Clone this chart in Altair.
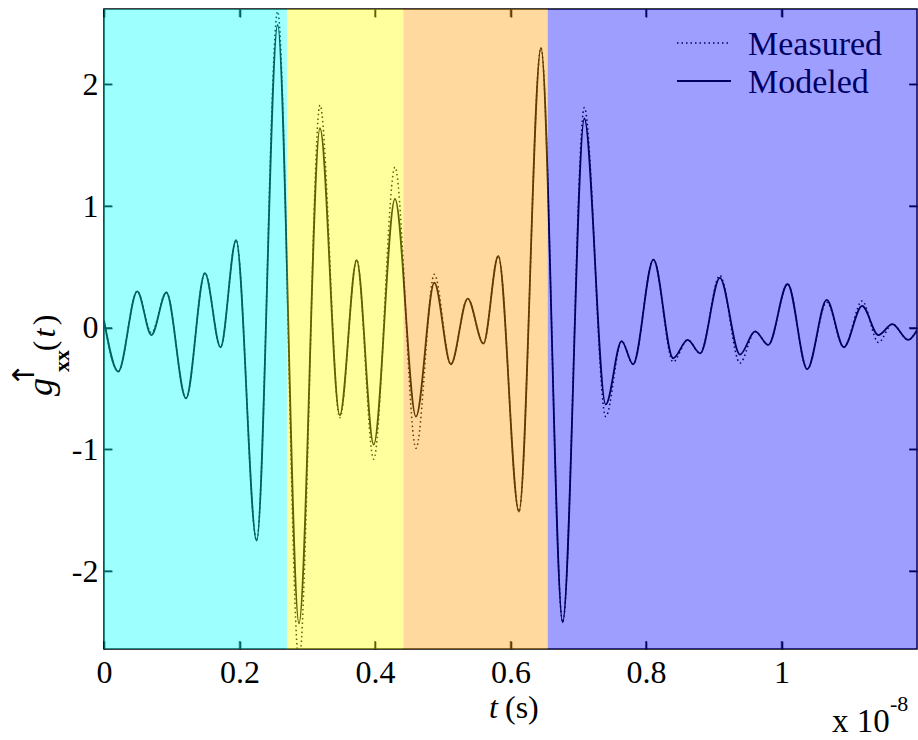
import altair as alt
import pandas as pd

# ---- data (t in units of 1e-8 s) ----
t_vals = [0.000, 0.021, 0.049, 0.070, 0.092, 0.121, 0.149, 0.172, 0.195, 0.2253,
          0.2563, 0.2878, 0.3188, 0.348, 0.373, 0.398, 0.4295, 0.4605, 0.4876, 0.512,
          0.5368, 0.560, 0.582, 0.6125, 0.645, 0.677, 0.709, 0.7405, 0.764, 0.781,
          0.811, 0.840, 0.8615, 0.880, 0.909, 0.9387, 0.961, 0.9806, 1.009, 1.038,
          1.0667, 1.092, 1.119, 1.143, 1.1636, 1.187, 1.200]
modeled = [0.06, -0.36, 0.30, -0.06, 0.29, -0.58, 0.45, -0.16, 0.72, -1.75,
           2.49, -2.43, 1.64, -0.72, 0.555, -0.96, 1.06, -0.73, 0.37, -0.30,
           0.24, -0.13, 0.59, -1.51, 2.30, -2.42, 1.72, -0.63, -0.11, -0.30,
           0.56, -0.25, -0.10, -0.21, 0.41, -0.22, -0.03, -0.14, 0.36, -0.34,
           0.23, -0.16, 0.18, -0.06, 0.03, -0.10, -0.02]
measured = [0.06, -0.36, 0.30, -0.04, 0.29, -0.58, 0.45, -0.16, 0.72, -1.75,
            2.60, -2.75, 1.83, -0.74, 0.56, -1.08, 1.32, -0.99, 0.44, -0.30,
            0.24, -0.13, 0.59, -1.51, 2.30, -2.42, 1.81, -0.73, -0.11, -0.30,
            0.56, -0.28, -0.10, -0.21, 0.43, -0.29, -0.03, -0.14, 0.36, -0.34,
            0.21, -0.16, 0.22, -0.12, 0.03, -0.10, -0.02]

band_start = [0.0, 0.27, 0.442, 0.655]
band_end = [0.27, 0.442, 0.655, 1.2]
band_color = ["#00FFFF", "#FFFF00", "#FF9A00", "#0000FF"]

x_ticks = [0, 0.2, 0.4, 0.6, 0.8, 1]
y_ticks = [-2, -1, 0, 1, 2]
series_names = ["Measured", "Modeled"]

# ---- layout ----
W, H = 813, 640
XDOM = [0, 1.2]
YDOM = [-2.64, 2.62]
FONT = "Liberation Serif"
FS = 32
TL = 8  # inward tick length

df = pd.DataFrame({"t": t_vals, "modeled": modeled, "measured": measured})
bands = pd.DataFrame({"start": band_start, "end": band_end, "color": band_color})
xt_df = pd.DataFrame({"v": x_ticks})
yt_df = pd.DataFrame({"v": y_ticks})

xs = alt.Scale(domain=XDOM, nice=False, zero=False)
ys = alt.Scale(domain=YDOM, nice=False, zero=False)

common = dict(grid=False, domain=False, tickSize=TL, offset=-TL, tickColor="black",
              tickWidth=1.6, labelFont=FONT, labelFontSize=FS, labelColor="black",
              labelFlush=False, title=None, labelExpr="'' + datum.value")

x_bottom = alt.Axis(orient="bottom", values=x_ticks, labelPadding=8, **common)
y_left = alt.Axis(orient="left", values=y_ticks, labelPadding=6, **common)
x_top = alt.Axis(orient="top", values=x_ticks, labels=False, **common)
y_right = alt.Axis(orient="right", values=y_ticks, labels=False, **common)

modeled_line = alt.Chart(df).mark_line(
    interpolate="monotone", color="black", strokeWidth=1.8, clip=True
).encode(
    x=alt.X("t:Q", scale=xs, axis=x_bottom),
    y=alt.Y("modeled:Q", scale=ys, axis=y_left),
)

measured_line = alt.Chart(df).mark_line(
    interpolate="monotone", color="black", strokeWidth=1.5, strokeDash=[1.5, 3], clip=True
).encode(
    x=alt.X("t:Q", scale=xs, axis=x_top),
    y=alt.Y("measured:Q", scale=ys, axis=y_right),
)

# inward tick marks on all four sides (from the tick arrays)
tick_kw = dict(color="black", thickness=1.5, size=TL)
tk_bottom = alt.Chart(xt_df).mark_tick(orient="vertical", **tick_kw).encode(
    x=alt.X("v:Q", scale=xs, axis=None), y=alt.value(H - TL / 2))
tk_top = alt.Chart(xt_df).mark_tick(orient="vertical", **tick_kw).encode(
    x=alt.X("v:Q", scale=xs, axis=None), y=alt.value(TL / 2))
tk_left = alt.Chart(yt_df).mark_tick(orient="horizontal", **tick_kw).encode(
    y=alt.Y("v:Q", scale=ys, axis=None), x=alt.value(TL / 2))
tk_right = alt.Chart(yt_df).mark_tick(orient="horizontal", **tick_kw).encode(
    y=alt.Y("v:Q", scale=ys, axis=None), x=alt.value(W - TL / 2))

one = pd.DataFrame({"k": [0]})


def txt(text, x, y, size=FS, style="normal", weight="normal", angle=0,
        align="left", baseline="alphabetic", color="black", font=FONT):
    kw = dict(font=font, fontSize=size, fontStyle=style, fontWeight=weight,
              align=align, baseline=baseline, color=color)
    if angle:
        kw["angle"] = angle
    return alt.Chart(pd.DataFrame({"s": [text]})).mark_text(**kw).encode(
        text="s:N", x=alt.value(x), y=alt.value(y)
    )


leg_dot = alt.Chart(one).mark_rule(color="black", strokeWidth=1.5, strokeDash=[1.5, 3]).encode(
    x=alt.value(573), x2=alt.value(626), y=alt.value(34))
leg_solid = alt.Chart(one).mark_rule(color="black", strokeWidth=1.8).encode(
    x=alt.value(573), x2=alt.value(627), y=alt.value(72))
leg_t1 = txt(series_names[0], 644, 46, size=34)
leg_t2 = txt(series_names[1], 644, 84, size=34)

band_layer = alt.Chart(bands).mark_rect(opacity=0.38, strokeWidth=0).encode(
    x=alt.X("start:Q", scale=xs, axis=None),
    x2="end:Q",
    color=alt.Color("color:N", scale=None),
)

# axis titles (outside plot)
xt1 = txt("t", 385, 709, style="italic")
xt2 = txt("(s)", 401, 709)
xe1 = txt("x 10", 728, 723, size=33)
xe2 = txt("-8", 786, 702, size=22)

yt_g = txt("g", -52, 378, size=36, style="italic", angle=270, align="center")
yt_arrow = txt("\u2191", -79, 366, size=30, angle=270, align="center", baseline="middle",
               font="DejaVu Sans")
yt_xx = txt("xx", -35, 352, size=22, weight="bold", angle=270, align="center")
yt_p1 = txt("(", -49, 337, angle=270, align="center")
yt_t = txt("t", -49, 324, style="italic", angle=270, align="center")
yt_p2 = txt(")", -49, 311, angle=270, align="center")

chart = alt.layer(
    modeled_line, measured_line, tk_bottom, tk_top, tk_left, tk_right,
    leg_dot, leg_solid, leg_t1, leg_t2, band_layer,
    xt1, xt2, xe1, xe2, yt_g, yt_arrow, yt_xx, yt_p1, yt_t, yt_p2,
).resolve_axis(x="independent", y="independent").properties(
    width=W, height=H,
    autosize=alt.AutoSizeParams(type="none"),
    padding={"left": 104, "top": 9, "right": 1, "bottom": 91},
).configure(background="white").configure_view(stroke="black", strokeWidth=1.5)

chart.save("out.html", embed_options={"renderer": "svg", "actions": False})
